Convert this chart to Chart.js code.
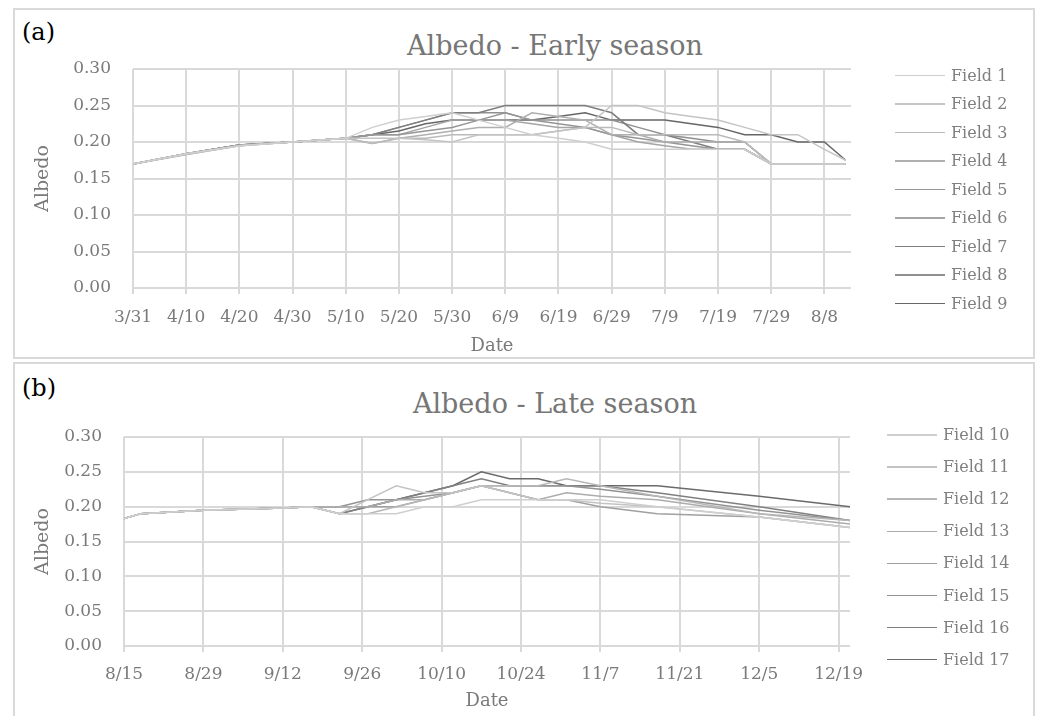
<!DOCTYPE html>
<html>
<head>
<meta charset="utf-8">
<script src="https://cdn.jsdelivr.net/npm/chart.js@4.4.1/dist/chart.umd.min.js"></script>
<style>
  body { margin: 0; width: 1040px; height: 716px; background: #fff; position: relative; overflow: hidden; font-family: 'DejaVu Serif', serif; }
  .frame { position: absolute; left: 13px; width: 1022px; border: 2px solid #d9d9d9; box-sizing: border-box; }
  .tag { position: absolute; left: 22px; font-size: 24px; line-height: 24px; color: #000; }
  .title { position: absolute; left: 0; width: 1110px; text-align: center; font-size: 27px; line-height: 27px; color: #767676; }
  canvas { position: absolute; left: 0; }
  .legend-row { position: absolute; display: flex; align-items: center; height: 20px; font-size: 16px; line-height: 20px; color: #7f7f7f; white-space: nowrap; }
  .legend-row i { display: block; width: 50px; height: 1.5px; margin-right: 6px; }
</style>
</head>
<body>
<div class="frame" style="top:8px;height:351px"></div>
<div class="frame" style="top:362px;height:360px"></div>
<div class="tag" style="top:20px">(a)</div>
<div class="tag" style="top:376px">(b)</div>
<div class="title" style="top:32px">Albedo - Early season</div>
<div class="title" style="top:390px">Albedo - Late season</div>
<canvas id="earlyChart" width="1040" height="358" style="top:0"></canvas>
<canvas id="lateChart" width="1040" height="358" style="top:358px"></canvas>
<div id="earlyLegend"></div>
<div id="lateLegend"></div>
<script>
// ======== Early season (days since 3/31) ========
const earlyDays = [0, 10, 20, 30, 40, 45, 50, 55, 60, 65, 70, 75, 80, 85, 90, 95, 100, 105, 110, 115, 120, 125, 130, 134];
const earlyTicks = ["3/31", "4/10", "4/20", "4/30", "5/10", "5/20", "5/30", "6/9", "6/19", "6/29", "7/9", "7/19", "7/29", "8/8"];
const earlyNames = ["Field 1", "Field 2", "Field 3", "Field 4", "Field 5", "Field 6", "Field 7", "Field 8", "Field 9"];
const earlyColors = ["#cfcfcf", "#c4c4c4", "#bababa", "#afafaf", "#969696", "#a5a5a5", "#7f7f7f", "#909090", "#666666"];

const field1 = [0.170, 0.184, 0.195, 0.200, 0.205, 0.220, 0.230, 0.235, 0.240, 0.230, 0.220, 0.210, 0.205, 0.200, 0.190, 0.190, 0.190, 0.190, 0.190, 0.190, 0.170, 0.170, 0.170, 0.170];
const field2 = [0.170, 0.184, 0.195, 0.200, 0.205, 0.205, 0.205, 0.203, 0.200, 0.210, 0.210, 0.210, 0.215, 0.220, 0.250, 0.250, 0.240, 0.235, 0.230, 0.220, 0.210, 0.210, 0.190, 0.175];
const field3 = [0.170, 0.183, 0.195, 0.200, 0.205, 0.198, 0.205, 0.205, 0.210, 0.210, 0.210, 0.210, 0.215, 0.220, 0.220, 0.210, 0.210, 0.210, 0.210, 0.200, 0.170, 0.170, 0.170, 0.170];
const field4 = [0.170, 0.183, 0.195, 0.200, 0.205, 0.198, 0.205, 0.210, 0.215, 0.220, 0.220, 0.240, 0.235, 0.230, 0.210, 0.210, 0.200, 0.200, 0.200, 0.200, 0.170, 0.170, 0.170, 0.170];
const field5 = [0.170, 0.184, 0.196, 0.200, 0.205, 0.210, 0.210, 0.215, 0.220, 0.230, 0.240, 0.230, 0.225, 0.220, 0.210, 0.205, 0.200, 0.195, 0.190, 0.190, 0.170, 0.170, 0.170, 0.170];
const field6 = [0.170, 0.184, 0.196, 0.200, 0.205, 0.210, 0.210, 0.220, 0.230, 0.230, 0.230, 0.225, 0.220, 0.220, 0.210, 0.200, 0.195, 0.190, 0.190, 0.190, 0.170, 0.170, 0.170, 0.170];
const field7 = [0.170, 0.184, 0.196, 0.200, 0.205, 0.210, 0.220, 0.230, 0.240, 0.240, 0.250, 0.250, 0.250, 0.250, 0.240, 0.210, 0.210, 0.200, 0.190, 0.190, 0.170, 0.170, 0.170, 0.170];
const field8 = [0.170, 0.184, 0.196, 0.200, 0.205, 0.210, 0.220, 0.230, 0.240, 0.240, 0.240, 0.230, 0.230, 0.230, 0.230, 0.220, 0.210, 0.205, 0.200, 0.200, 0.170, 0.170, 0.170, 0.170];
const field9 = [0.170, 0.184, 0.196, 0.200, 0.205, 0.210, 0.215, 0.225, 0.230, 0.230, 0.230, 0.230, 0.235, 0.240, 0.230, 0.230, 0.230, 0.225, 0.220, 0.210, 0.210, 0.200, 0.200, 0.175];

// ======== Late season (days since 8/15) ========
const lateDays = [0, 3, 14, 28, 33, 38, 43, 48, 53, 58, 63, 68, 73, 78, 84, 94, 112, 128];
const lateTicks = ["8/15", "8/29", "9/12", "9/26", "10/10", "10/24", "11/7", "11/21", "12/5", "12/19"];
const lateNames = ["Field 10", "Field 11", "Field 12", "Field 13", "Field 14", "Field 15", "Field 16", "Field 17"];
const lateColors = ["#cfcfcf", "#c3c3c3", "#b7b7b7", "#acacac", "#a0a0a0", "#939393", "#808080", "#6a6a6a"];

const field10 = [0.183, 0.190, 0.195, 0.198, 0.200, 0.190, 0.190, 0.190, 0.200, 0.200, 0.210, 0.210, 0.210, 0.210, 0.210, 0.200, 0.185, 0.170];
const field11 = [0.183, 0.190, 0.195, 0.198, 0.200, 0.190, 0.210, 0.230, 0.220, 0.220, 0.230, 0.220, 0.210, 0.210, 0.205, 0.200, 0.185, 0.170];
const field12 = [0.183, 0.190, 0.195, 0.198, 0.200, 0.190, 0.190, 0.200, 0.210, 0.220, 0.230, 0.230, 0.230, 0.240, 0.230, 0.215, 0.190, 0.180];
const field13 = [0.183, 0.190, 0.195, 0.198, 0.200, 0.200, 0.200, 0.210, 0.210, 0.220, 0.230, 0.220, 0.210, 0.220, 0.215, 0.210, 0.190, 0.175];
const field14 = [0.183, 0.190, 0.195, 0.198, 0.200, 0.200, 0.200, 0.200, 0.210, 0.220, 0.230, 0.220, 0.210, 0.210, 0.200, 0.190, 0.185, 0.170];
const field15 = [0.183, 0.190, 0.195, 0.198, 0.200, 0.200, 0.210, 0.210, 0.215, 0.220, 0.230, 0.230, 0.230, 0.230, 0.225, 0.215, 0.195, 0.180];
const field16 = [0.183, 0.190, 0.195, 0.198, 0.200, 0.190, 0.200, 0.210, 0.220, 0.230, 0.240, 0.230, 0.230, 0.230, 0.230, 0.220, 0.200, 0.180];
const field17 = [0.183, 0.190, 0.195, 0.198, 0.200, 0.190, 0.200, 0.210, 0.220, 0.230, 0.250, 0.240, 0.240, 0.230, 0.230, 0.230, 0.215, 0.200];

const earlySeries = [field1, field2, field3, field4, field5, field6, field7, field8, field9];
const lateSeries = [field10, field11, field12, field13, field14, field15, field16, field17];

Chart.defaults.font.family = "'DejaVu Serif', serif";
Chart.defaults.color = "#7a7a7a";

const gridColor = "#d9d9d9";

function buildDatasets(names, colors, series, days) {
  return series.map((vals, i) => ({
    label: names[i],
    data: vals.map((v, j) => ({ x: days[j], y: v })),
    borderColor: colors[i],
    backgroundColor: colors[i],
    borderWidth: 1.5,
    pointRadius: 0,
    fill: false,
    tension: 0,
  }));
}

function drawPanel(canvasId, cfg) {
  new Chart(document.getElementById(canvasId), {
    type: "line",
    data: { datasets: buildDatasets(cfg.names, cfg.colors, cfg.series, cfg.days) },
    options: {
      responsive: false,
      animation: false,
      devicePixelRatio: 1,
      layout: { padding: { left: 24, right: cfg.padRight, top: cfg.padTop, bottom: 0 } },
      plugins: { legend: { display: false }, tooltip: { enabled: false }, title: { display: false } },
      scales: {
        x: {
          type: "linear",
          min: 0,
          max: cfg.xMax,
          bounds: "data",
          border: { display: false },
          grid: { color: gridColor, lineWidth: 2, drawTicks: true, tickLength: 6 },
          ticks: {
            stepSize: cfg.xStep,
            includeBounds: false,
            autoSkip: false,
            maxRotation: 0,
            padding: cfg.xTickPad,
            font: { size: 17 },
            callback: (v, i) => cfg.ticks[i],
          },
          title: { display: true, text: "Date", font: { size: 18 }, padding: { top: 0, bottom: cfg.xTitlePad } },
          afterFit: (s) => { s.height = 70; },
        },
        y: {
          min: 0,
          max: 0.3,
          border: { display: false },
          grid: { color: gridColor, lineWidth: 2, drawTicks: false },
          ticks: { stepSize: 0.05, padding: 22, font: { size: 17 }, callback: (v) => v.toFixed(2) },
          title: { display: true, text: "Albedo", font: { size: 19 }, padding: { top: 8, bottom: 0 } },
          afterFit: (s) => { s.width = cfg.yWidth; },
        },
      },
    },
  });
}

function buildLegend(holderId, names, colors, left, firstY, step) {
  const holder = document.getElementById(holderId);
  names.forEach((name, i) => {
    const row = document.createElement("div");
    row.className = "legend-row";
    row.style.left = left + "px";
    row.style.top = (firstY + i * step - 10) + "px";
    const line = document.createElement("i");
    line.style.background = colors[i];
    row.appendChild(line);
    row.appendChild(document.createTextNode(name));
    holder.appendChild(row);
  });
}

drawPanel("earlyChart", {
  names: earlyNames, colors: earlyColors, series: earlySeries, days: earlyDays, ticks: earlyTicks,
  xMax: 135, xStep: 10, padRight: 189, padTop: 69, yWidth: 109, xTickPad: 13, xTitlePad: 1,
});
drawPanel("lateChart", {
  names: lateNames, colors: lateColors, series: lateSeries, days: lateDays, ticks: lateTicks,
  xMax: 128, xStep: 14, padRight: 190, padTop: 79, yWidth: 100, xTickPad: 12, xTitlePad: 4,
});

buildLegend("earlyLegend", earlyNames, earlyColors, 895, 75.7, 28.5);
buildLegend("lateLegend", lateNames, lateColors, 887, 435, 32.1);
</script>
</body>
</html>
